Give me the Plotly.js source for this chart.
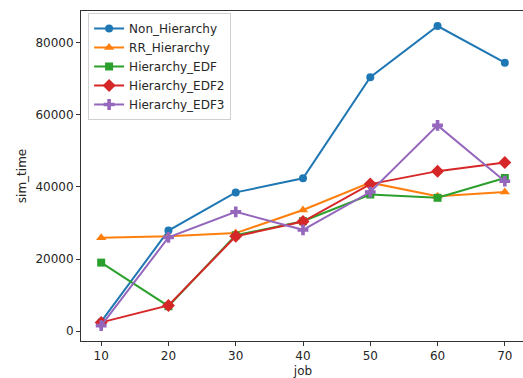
<!DOCTYPE html>
<html>
<head>
<meta charset="utf-8">
<script src="https://cdn.plot.ly/plotly-3.0.1.min.js"></script>
<style>
html, body { margin: 0; padding: 0; overflow: hidden; background: #fff; }
#chart { width: 527px; height: 378px; }
</style>
</head>
<body>
<div id="chart"></div>
<script>
const jobs = [10, 20, 30, 40, 50, 60, 70];
const nonHierarchy = [2600, 27900, 38500, 42400, 70500, 84700, 74500];
const rrHierarchy = [25900, 26300, 27200, 33600, 41200, 37400, 38600];
const hierarchyEDF = [19000, 6900, 26600, 30500, 37900, 37000, 42500];
const hierarchyEDF2 = [2400, 7100, 26300, 30400, 40800, 44400, 46800];
const hierarchyEDF3 = [1500, 26000, 33100, 28100, 38600, 57100, 41600];
const seriesNames = ["Non_Hierarchy", "RR_Hierarchy", "Hierarchy_EDF", "Hierarchy_EDF2", "Hierarchy_EDF3"];

const colors = ["#1f77b4", "#ff7f0e", "#2ca02c", "#d62728", "#9467bd"];
const symbols = ["circle", "triangle-up", "square", "diamond", "cross"];
const sizes = [8, 9, 8, 10, 9];
const allY = [nonHierarchy, rrHierarchy, hierarchyEDF, hierarchyEDF2, hierarchyEDF3];

const traces = allY.map((ys, i) => ({
  x: jobs, y: ys, name: seriesNames[i], type: "scatter", mode: "lines+markers",
  line: {color: colors[i], width: 2},
  marker: {color: colors[i], symbol: symbols[i], size: sizes[i]}
}));

const font = {family: "DejaVu Sans", size: 12, color: "#262626"};
const layout = {
  width: 527, height: 378,
  margin: {l: 81, r: 2, t: 11, b: 37},
  paper_bgcolor: "#fff", plot_bgcolor: "#fff",
  font: font,
  showlegend: true,
  legend: {
    x: 0.016, y: 0.994, xanchor: "left", yanchor: "top",
    bgcolor: "rgba(255,255,255,0.8)", bordercolor: "#d0d0d0", borderwidth: 1,
    font: {family: "DejaVu Sans", size: 12, color: "#262626"},
    tracegroupgap: 0
  },
  xaxis: {
    range: [7, 73], tickvals: jobs, ticks: "outside", ticklen: 4, tickcolor: "#333",
    showgrid: false, zeroline: false, showline: true, linecolor: "#333", linewidth: 1, mirror: true,
    title: {text: "job", font: font, standoff: 4},
    tickfont: font
  },
  yaxis: {
    range: [-2765, 88865], dtick: 20000, tick0: 0, tickformat: "d", ticks: "outside", ticklen: 4, tickcolor: "#333",
    showgrid: false, zeroline: false, showline: true, linecolor: "#333", linewidth: 1, mirror: true,
    title: {text: "sim_time", font: font, standoff: 6},
    tickfont: font
  }
};
Plotly.newPlot("chart", traces, layout, {displayModeBar: false, staticPlot: true});
</script>
</body>
</html>
